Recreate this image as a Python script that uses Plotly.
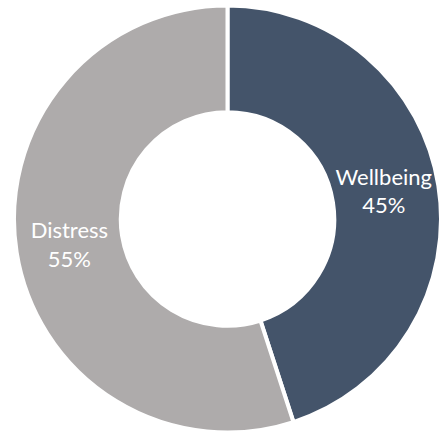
import plotly.graph_objects as go

labels = ["Wellbeing", "Distress"]
values = [45, 55]
colors = ["#44546A", "#AEABAB"]

# Excel places the Wellbeing label a bit higher than Plotly's centroid;
# trailing blank lines lift that label block.
templates = ["%{label}<br>%{percent:.0%}<br>&nbsp;<br>&nbsp;",
             "%{label}<br>%{percent:.0%}"]

fig = go.Figure(go.Pie(
    labels=labels,
    values=values,
    hole=0.5,
    sort=False,
    direction="clockwise",
    rotation=0,
    marker=dict(colors=colors, line=dict(color="white", width=4)),
    texttemplate=templates,
    textposition="inside",
    insidetextorientation="horizontal",
    textfont=dict(family="Lato", size=22, color="white"),
    domain=dict(x=[14/441, 1.0], y=[2/435, 430/435]),
    showlegend=False,
    hoverinfo="skip",
))

fig.update_layout(
    width=441, height=435,
    margin=dict(l=0, r=0, t=0, b=0),
    paper_bgcolor="white",
    plot_bgcolor="white",
    uniformtext=dict(minsize=22, mode="show"),
)

fig.write_html("out.html", config={"displayModeBar": False},
               post_script="document.body.style.margin='0';")
